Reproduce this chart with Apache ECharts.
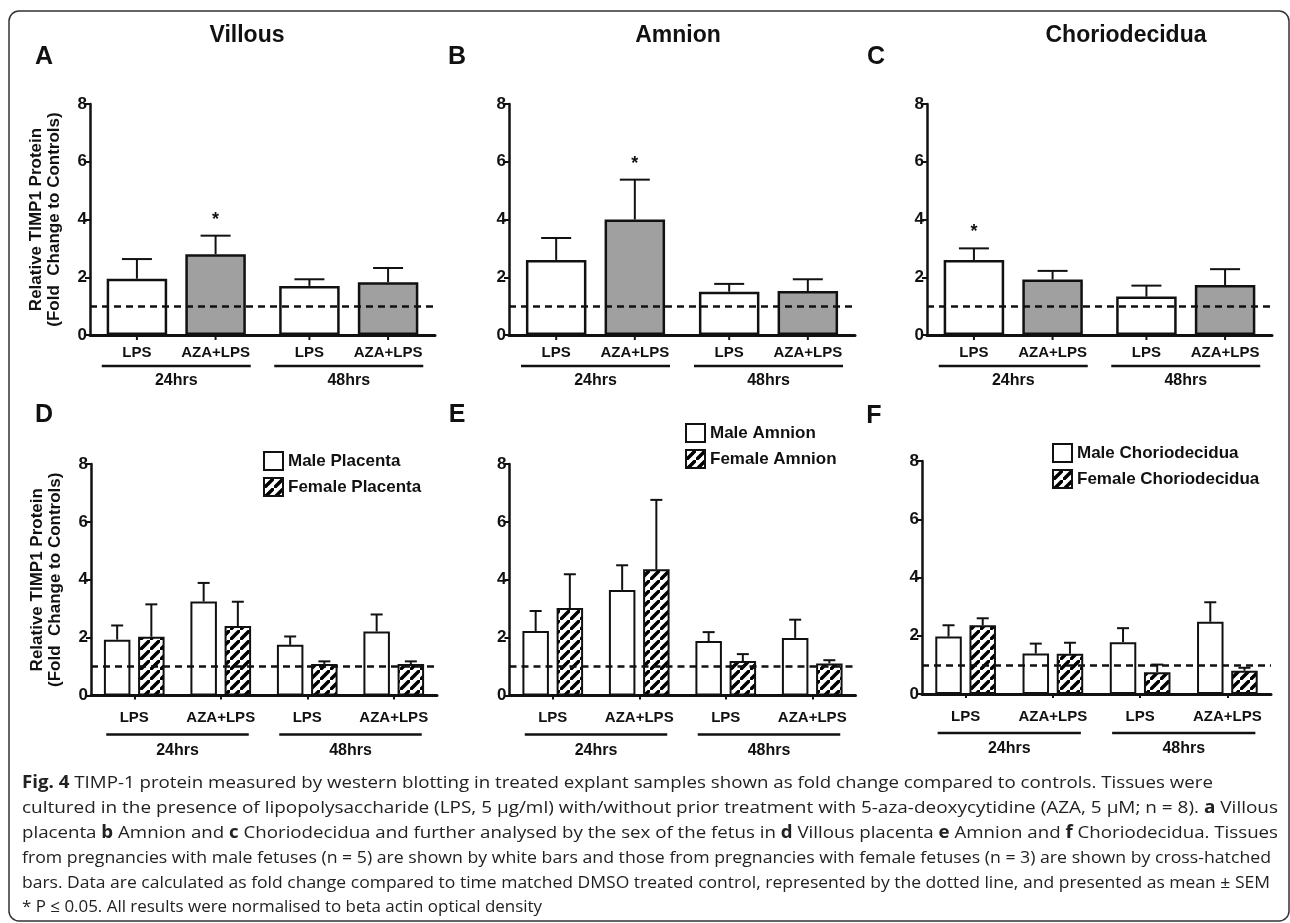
<!DOCTYPE html>
<html><head><meta charset="utf-8">
<script src="https://cdn.jsdelivr.net/npm/echarts@6/dist/echarts.min.js"></script>
<style>html,body{margin:0;padding:0;background:#fff}#c{width:1290px;height:923px}</style>
</head><body><div id="c"></div>
<script>
// ---------------- DATA ----------------
const topGroups = ['24hrs', '48hrs'];
const topTreatments = ['LPS', 'AZA+LPS'];
const panelTitles = ['Villous', 'Amnion', 'Choriodecidua'];
const panelLetters = ['A', 'B', 'C', 'D', 'E', 'F'];
const yTickValues = [0, 2, 4, 6, 8];
const controlLevel = 1;

// top panels: mean and SEM, index = [24hrs, 48hrs]
const villousLPS = [1.95, 1.70];
const villousLPSsem = [0.68, 0.23];
const villousAZA = [2.80, 1.83];
const villousAZAsem = [0.64, 0.49];
const villousLPSsig = [0, 0];
const villousAZAsig = [1, 0];

const amnionLPS = [2.60, 1.50];
const amnionLPSsem = [0.76, 0.27];
const amnionAZA = [4.00, 1.52];
const amnionAZAsem = [1.38, 0.41];
const amnionLPSsig = [0, 0];
const amnionAZAsig = [1, 0];

const chorioLPS = [2.60, 1.33];
const chorioLPSsem = [0.40, 0.38];
const chorioAZA = [1.92, 1.73];
const chorioAZAsem = [0.30, 0.55];
const chorioLPSsig = [1, 0];
const chorioAZAsig = [0, 0];

// bottom panels: categories and sex split
const bottomCategories = ['LPS', 'AZA+LPS', 'LPS', 'AZA+LPS'];
const bottomGroups = ['24hrs', '48hrs'];
const bottomSeriesNames = [
  ['Male Placenta', 'Female Placenta'],
  ['Male Amnion', 'Female Amnion'],
  ['Male Choriodecidua', 'Female Choriodecidua']
];
const placentaMale = [1.93, 3.25, 1.75, 2.21];
const placentaMaleSem = [0.49, 0.64, 0.29, 0.59];
const placentaFemale = [2.03, 2.40, 1.09, 1.09];
const placentaFemaleSem = [1.12, 0.84, 0.09, 0.09];

const amnionMale = [2.23, 3.65, 1.88, 1.99];
const amnionMaleSem = [0.69, 0.85, 0.31, 0.63];
const amnionFemale = [3.02, 4.36, 1.19, 1.11];
const amnionFemaleSem = [1.17, 2.40, 0.24, 0.11];

const chorioMale = [1.97, 1.39, 1.78, 2.48];
const chorioMaleSem = [0.39, 0.34, 0.48, 0.67];
const chorioFemale = [2.36, 1.38, 0.75, 0.80];
const chorioFemaleSem = [0.24, 0.38, 0.26, 0.10];

const yAxisName = 'Relative TIMP1 Protein\n(Fold  Change to Controls)';

const captionLines = [
  [['Fig. 4', 1], [' TIMP-1 protein measured by western blotting in treated explant samples shown as fold change compared to controls. Tissues were', 0]],
  [['cultured in the presence of lipopolysaccharide (LPS, 5 \u00b5g/ml) with/without prior treatment with 5-aza-deoxycytidine (AZA, 5 \u00b5M; n = 8). ', 0], ['a', 1], [' Villous', 0]],
  [['placenta ', 0], ['b', 1], [' Amnion and ', 0], ['c', 1], [' Choriodecidua and further analysed by the sex of the fetus in ', 0], ['d', 1], [' Villous placenta ', 0], ['e', 1], [' Amnion and ', 0], ['f', 1], [' Choriodecidua. Tissues', 0]],
  [['from pregnancies with male fetuses (n = 5) are shown by white bars and those from pregnancies with female fetuses (n = 3) are shown by cross-hatched', 0]],
  [['bars. Data are calculated as fold change compared to time matched DMSO treated control, represented by the dotted line, and presented as mean \u00b1 SEM', 0]],
  [['* P \u2264 0.05. All results were normalised to beta actin optical density', 0]]
];

// ---------------- LAYOUT / STYLE ----------------
const FONT = '"Liberation Sans", Arial, Helvetica, sans-serif';
const INK = '#111';
const GRAY = '#a0a0a0';
const topGrids = [
  { left: 90, top: 104, width: 345, height: 231 },
  { left: 509, top: 104, width: 346, height: 231 },
  { left: 927, top: 104, width: 345, height: 231 }
];
const botGrids = [
  { left: 91, top: 464, width: 346, height: 231.5 },
  { left: 509.5, top: 464, width: 346, height: 231.5 },
  { left: 922, top: 461, width: 349, height: 233 }
];
const TOP_BAR_W = 60.5, TOP_GAP_RATIO = 0.30;
const BOT_BAR_W = 26.5, BOT_GAP_RATIO = 0.29;

// "/" hatch pattern tile
const hatchTile = (function () {
  const c = document.createElement('canvas');
  const n = 10;
  c.width = n; c.height = n;
  const g = c.getContext('2d');
  g.fillStyle = '#fff'; g.fillRect(0, 0, n, n);
  g.strokeStyle = '#000'; g.lineWidth = 3.5; g.lineCap = 'square';
  g.beginPath();
  g.moveTo(-2, n + 2); g.lineTo(n + 2, -2);
  g.moveTo(-2 - n, 2); g.lineTo(2, -2 - n);
  g.moveTo(n - 2, 2 * n + 2); g.lineTo(2 * n + 2, n - 2);
  g.stroke();
  return c;
})();
const hatchFill = { image: hatchTile, repeat: 'repeat' };

const grids = [], xAxes = [], yAxes = [], series = [], legends = [];

function yAxisCfg(i, withName) {
  return {
    type: 'value', gridIndex: i, min: yTickValues[0], max: yTickValues[yTickValues.length - 1],
    interval: yTickValues[1] - yTickValues[0],
    axisLine: { show: true, lineStyle: { color: INK, width: 2.5 } },
    axisTick: { show: true, length: 5, lineStyle: { color: INK, width: 2 } },
    axisLabel: { color: INK, fontSize: 17, fontWeight: 'bold', fontFamily: FONT, margin: 3 },
    splitLine: { show: false },
    name: withName ? yAxisName : '',
    nameLocation: 'middle', nameRotate: 90, nameGap: 27,
    nameTextStyle: { color: INK, fontSize: 17, fontWeight: 'bold', fontFamily: FONT, lineHeight: 18 }
  };
}

function dashedSeries(i) {
  return {
    type: 'line', xAxisIndex: i, yAxisIndex: i, data: [], z: 1, silent: true,
    markLine: {
      silent: true, symbol: 'none', label: { show: false },
      lineStyle: { type: [7, 5], width: 2.5, color: INK },
      emphasis: { disabled: true },
      data: [{ yAxis: controlLevel }]
    }
  };
}

function errorSeries(i, means, sems, sigs, k, barW, gapRatio, capW, tickLen) {
  const step = barW * (1 + gapRatio);
  return {
    type: 'custom', xAxisIndex: i, yAxisIndex: i, z: 4, silent: true, clip: false,
    data: means.map((m, j) => [j, m, sems[j], sigs ? sigs[j] : 0]),
    encode: { x: 0, y: 1 },
    renderItem: function (params, api) {
      const cat = api.value(0), m = api.value(1), s = api.value(2), sig = api.value(3);
      const p = api.coord([cat, m]);
      const x = p[0] + (k - 0.5) * step;
      const yTop = api.coord([cat, m + s])[1];
      const y0 = api.coord([cat, 0])[1];
      const ls = { stroke: INK, lineWidth: 2 };
      const ch = [
        { type: 'line', shape: { x1: x, y1: p[1], x2: x, y2: yTop }, style: ls },
        { type: 'line', shape: { x1: x - capW / 2, y1: yTop, x2: x + capW / 2, y2: yTop }, style: ls }
      ];
      if (tickLen) ch.push({ type: 'line', shape: { x1: x, y1: y0, x2: x, y2: y0 + tickLen }, style: ls });
      if (sig) ch.push({ type: 'text', x: x, y: yTop - 16, style: { text: '*', fill: INK, font: 'bold 18px ' + FONT, textAlign: 'center', textVerticalAlign: 'middle' } });
      return { type: 'group', children: ch };
    }
  };
}

function groupSeries(i, spans, labels, ext, lineOff, textOff) {
  return {
    type: 'custom', xAxisIndex: i, yAxisIndex: i, z: 4, silent: true, clip: false,
    data: spans.map((s, j) => [s[0], 0, s[1], j]),
    encode: { x: 0, y: 1 },
    renderItem: function (params, api) {
      const a = api.coord([api.value(0), 0]);
      const b = api.coord([api.value(2), 0]);
      const y0 = a[1];
      return {
        type: 'group', children: [
          { type: 'line', shape: { x1: a[0] - ext, y1: y0 + lineOff, x2: b[0] + ext, y2: y0 + lineOff }, style: { stroke: INK, lineWidth: 2.5 } },
          { type: 'text', x: (a[0] + b[0]) / 2, y: y0 + textOff, style: { text: labels[api.value(3)], fill: INK, font: 'bold 16px ' + FONT, textAlign: 'center', textVerticalAlign: 'middle' } }
        ]
      };
    }
  };
}

// ---------- top panels ----------
const topData = [
  [[villousLPS, villousLPSsem, villousLPSsig], [villousAZA, villousAZAsem, villousAZAsig]],
  [[amnionLPS, amnionLPSsem, amnionLPSsig], [amnionAZA, amnionAZAsem, amnionAZAsig]],
  [[chorioLPS, chorioLPSsem, chorioLPSsig], [chorioAZA, chorioAZAsem, chorioAZAsig]]
];
topGrids.forEach((g, i) => {
  grids.push(Object.assign({ containLabel: false }, g));
  xAxes.push({
    type: 'category', gridIndex: i, data: topGroups,
    axisLine: { show: true, lineStyle: { color: INK, width: 3 } },
    axisTick: { show: false }, axisLabel: { show: false }, splitLine: { show: false }
  });
  yAxes.push(yAxisCfg(i, i === 0));
  series.push(dashedSeries(i));
  topData[i].forEach((d, k) => {
    series.push({
      type: 'bar', name: topTreatments[k], xAxisIndex: i, yAxisIndex: i, data: d[0], z: 2,
      barWidth: TOP_BAR_W, barGap: (TOP_GAP_RATIO * 100) + '%', silent: true,
      itemStyle: { color: k === 0 ? '#fff' : GRAY, borderColor: INK, borderWidth: 2.5 },
      label: {
        show: true, position: 'bottom', distance: 10, formatter: topTreatments[k],
        color: INK, fontSize: 15, fontWeight: 'bold', fontFamily: FONT
      }
    });
    series.push(errorSeries(i, d[0], d[1], d[2], k, TOP_BAR_W, TOP_GAP_RATIO, 30, 5));
  });
  series.push(groupSeries(i, [[0, 0], [1, 1]], topGroups, 74.5, 31, 46));
});

// ---------- bottom panels ----------
const botData = [
  [[placentaMale, placentaMaleSem], [placentaFemale, placentaFemaleSem]],
  [[amnionMale, amnionMaleSem], [amnionFemale, amnionFemaleSem]],
  [[chorioMale, chorioMaleSem], [chorioFemale, chorioFemaleSem]]
];
const legendPos = [{ left: 263, top: 451 }, { left: 685, top: 423 }, { left: 1052, top: 443 }];
botGrids.forEach((g, j) => {
  const i = j + 3;
  grids.push(Object.assign({ containLabel: false }, g));
  xAxes.push({
    type: 'category', gridIndex: i, data: bottomCategories,
    axisLine: { show: true, lineStyle: { color: INK, width: 3 } },
    axisTick: { show: true, alignWithLabel: true, interval: 0, length: 4, lineStyle: { color: INK, width: 2 } },
    axisLabel: { interval: 0, margin: 15, color: INK, fontSize: 15, fontWeight: 'bold', fontFamily: FONT },
    splitLine: { show: false }
  });
  yAxes.push(yAxisCfg(i, j === 0));
  series.push(dashedSeries(i));
  botData[j].forEach((d, k) => {
    const st = { color: k === 1 ? hatchFill : '#fff', borderColor: INK, borderWidth: 2 };
    series.push({
      type: 'bar', name: bottomSeriesNames[j][k], xAxisIndex: i, yAxisIndex: i, data: d[0], z: 2,
      barWidth: BOT_BAR_W, barGap: (BOT_GAP_RATIO * 100) + '%', silent: true, itemStyle: st
    });
    series.push(errorSeries(i, d[0], d[1], null, k, BOT_BAR_W, BOT_GAP_RATIO, 12, 0));
  });
  series.push(groupSeries(i, [[0, 1], [2, 3]], bottomGroups, 28, 39, 55));
  legends.push(Object.assign({
    orient: 'vertical', icon: 'rect', itemWidth: 19, itemHeight: 18, itemGap: 6, padding: 0,
    selectedMode: false, data: bottomSeriesNames[j],
    textStyle: { color: INK, fontSize: 17, fontWeight: 'bold', fontFamily: FONT }
  }, legendPos[j]));
});

// ---------- texts ----------
const graphics = [];
graphics.push({
  type: 'rect', silent: true, z: -1,
  shape: { x: 9, y: 11, width: 1280, height: 910, r: 10 },
  style: { fill: 'none', stroke: '#333', lineWidth: 1.5 }
});
const titleX = [247, 678, 1126];
panelTitles.forEach((t, i) => graphics.push({
  type: 'text', x: titleX[i], y: 36,
  style: { text: t, fill: INK, font: 'bold 23px ' + FONT, textAlign: 'center', textVerticalAlign: 'middle' }
}));
const letterPos = [[44, 57], [457, 57], [876, 57], [44, 415], [457, 415], [874, 416]];
panelLetters.forEach((t, i) => graphics.push({
  type: 'text', x: letterPos[i][0], y: letterPos[i][1],
  style: { text: t, fill: INK, font: 'bold 25px ' + FONT, textAlign: 'center', textVerticalAlign: 'middle' }
}));

// caption: each line fitted to its width in the reference
const CAP_FONT = '"Open Sans", "Noto Sans", sans-serif';
const CAP_SIZE = 17;
const CAP_LEFT = 22;
const capLineEnds = [1213, 1278, 1278, 1271, 1270, 542];
const capY = [783, 808, 833, 858, 883, 907];
const cv = document.createElement('canvas').getContext('2d');
function lineWidth(segs) {
  let w = 0;
  segs.forEach(s => { cv.font = (s[1] ? 'bold ' : '') + CAP_SIZE + 'px ' + CAP_FONT; w += cv.measureText(s[0]).width; });
  return w;
}
captionLines.forEach((segs, i) => {
  const txt = segs.map(s => s[1] ? '{b|' + s[0] + '}' : s[0]).join('');
  const sc = (capLineEnds[i] - CAP_LEFT) / lineWidth(segs);
  graphics.push({
    type: 'text', x: CAP_LEFT, y: capY[i], scaleX: sc, scaleY: 1, originX: 0, originY: 0,
    style: {
      text: txt, fill: '#222', fontSize: CAP_SIZE, fontFamily: CAP_FONT,
      textAlign: 'left', textVerticalAlign: 'middle',
      rich: { b: { fontWeight: 'bold', fontSize: CAP_SIZE, fontFamily: CAP_FONT, fill: '#222' } }
    }
  });
});

const chart = echarts.init(document.getElementById('c'), null, { renderer: 'canvas' });
chart.setOption({
  animation: false,
  backgroundColor: '#fff',
  grid: grids, xAxis: xAxes, yAxis: yAxes, legend: legends,
  series: series, graphic: graphics
});
</script></body></html>
